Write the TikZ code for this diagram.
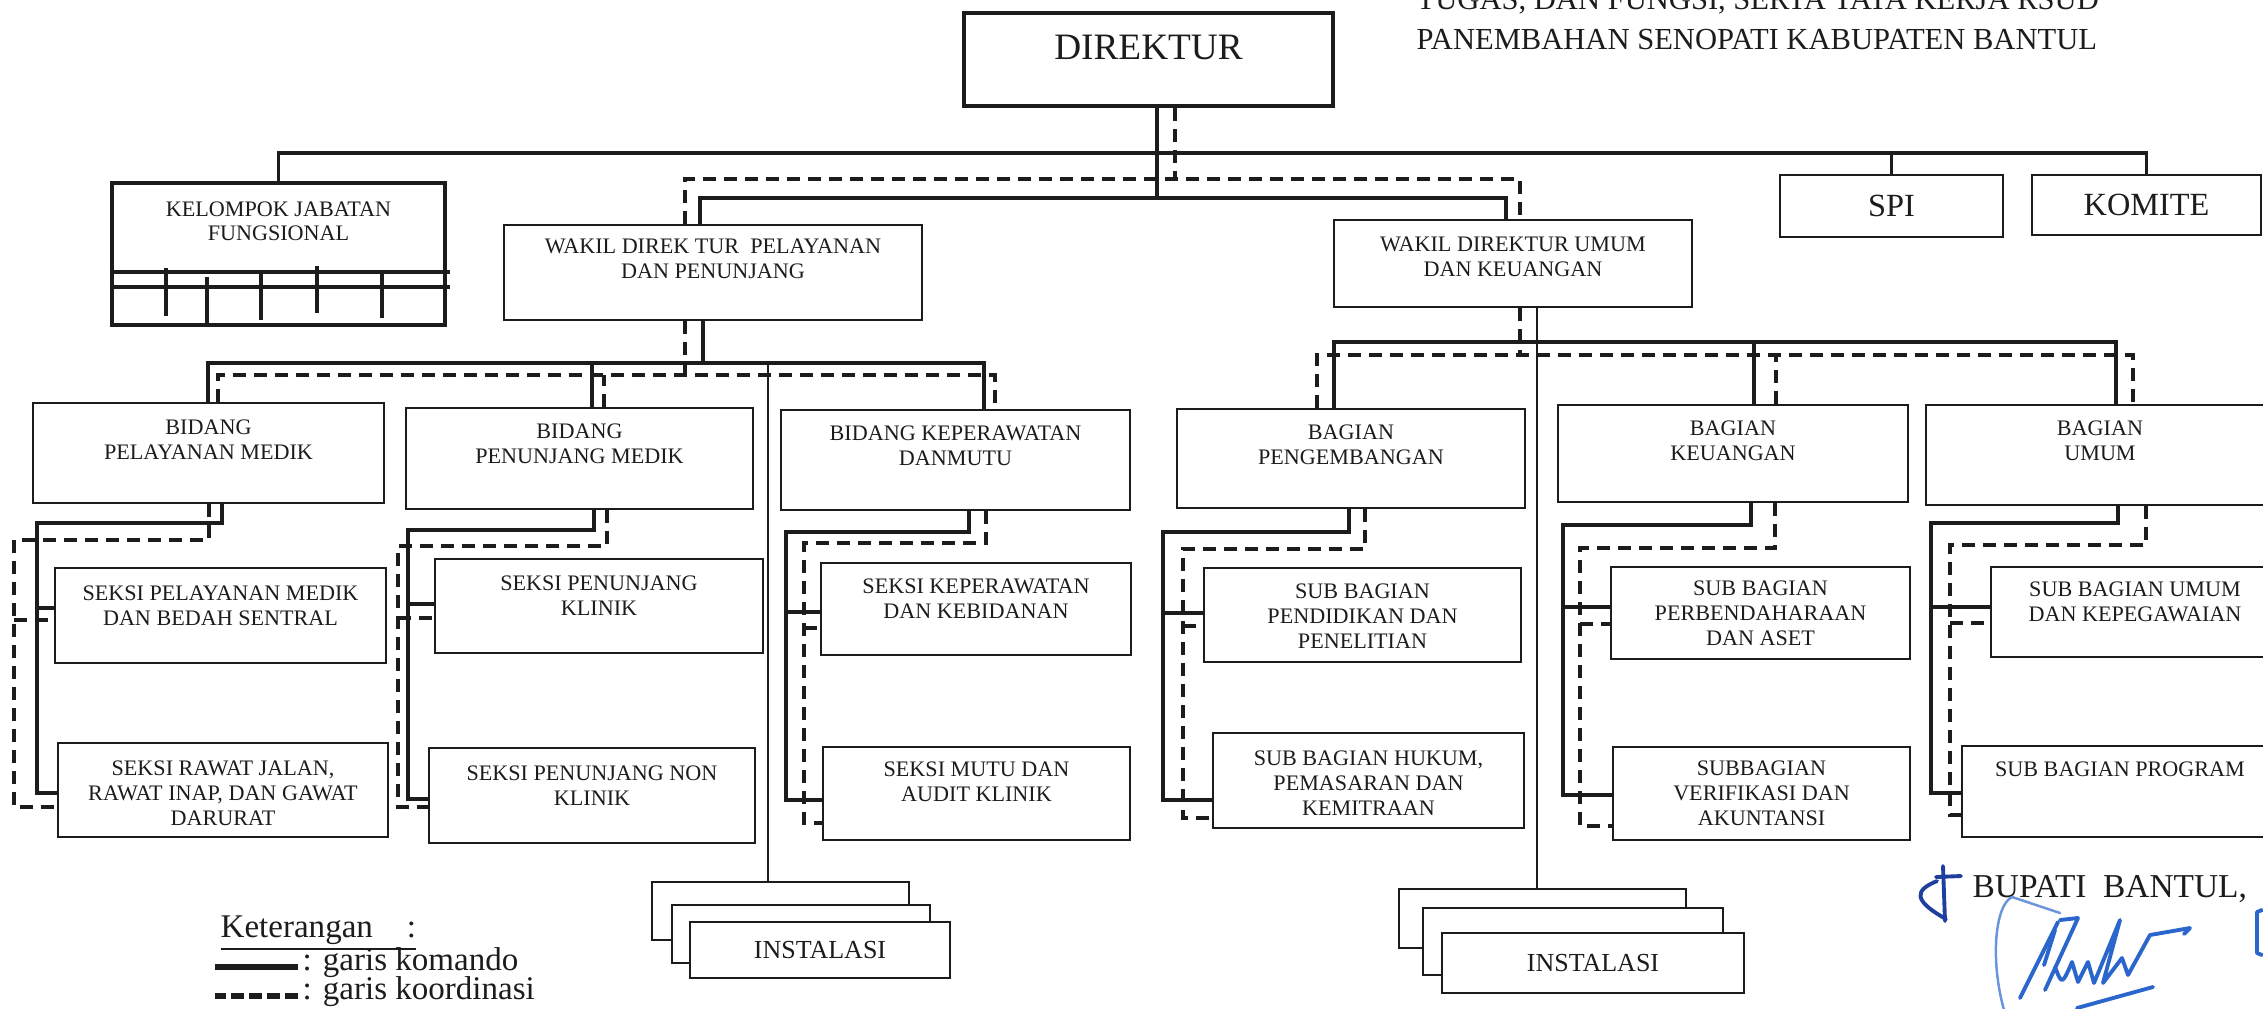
\documentclass[tikz,border=0pt]{standalone}
\usepackage{fontspec}
\setmainfont{Liberation Serif}
\usetikzlibrary{positioning}
\definecolor{ink}{HTML}{1C1C1C}
\definecolor{sigblue}{HTML}{2A66CC}
\definecolor{sigdark}{HTML}{1F3E9E}

\begin{document}
\begin{tikzpicture}[x=0.1mm,y=-0.1mm,
  unit/.style={draw=ink,line width=0.8pt,inner sep=0pt,fill=white,text=ink},
  txt/.style={align=center,inner sep=0pt,text=ink,font=\fontsize{6.3}{7}\selectfont},
  big/.style={inner sep=0pt,text=ink,font=\fontsize{9.2}{10}\selectfont},
  cmd/.style={draw=ink,line width=1.1pt},
  thinline/.style={draw=ink,line width=0.6pt},
  crd/.style={draw=ink,line width=0.9pt,dash pattern=on 1.3mm off 0.8mm},
  sig/.style={draw=sigblue,line width=1.1pt,line cap=round,line join=round}]
\useasboundingbox (0,0) rectangle (2263,1008);
\fill[white] (0,0) rectangle (2263,1008);

% heading
\node[big,anchor=base west,font=\fontsize{8.7}{10}\selectfont] (hd1) at (1416,9) {TUGAS, DAN FUNGSI, SERTA TATA KERJA RSUD};
\node[big,anchor=base west,font=\fontsize{8.7}{10}\selectfont] (hd2) at (1416,49) {PANEMBAHAN SENOPATI KABUPATEN BANTUL};

% top
\node[unit,line width=1.3pt,minimum width=36.9mm,minimum height=9.3mm] (dir) at (1148.5,59.5) {};
\node[big,font=\fontsize{10.6}{12}\selectfont,below=2.4mm of dir.north] (dirt) {DIREKTUR};
\node[unit,line width=1.3pt,minimum width=33.3mm,minimum height=14.2mm] (kjf) at (278.5,254) {};
\node[txt,below=2mm of kjf.north] (kjft) {KELOMPOK JABATAN\\FUNGSIONAL};
\node[unit,minimum width=22.3mm,minimum height=6.2mm] (spi) at (1891.5,206) {};
\node[big] (spit) at (spi) {SPI};
\node[unit,minimum width=22.9mm,minimum height=6mm] (kom) at (2146.5,205) {};
\node[big] (komt) at (kom) {KOMITE};
\node[unit,minimum width=41.8mm,minimum height=9.5mm] (wpp) at (713,272.5) {};
\node[txt,below=1.5mm of wpp.north] (wppt) {WAKIL DIREK TUR\ \ PELAYANAN\\DAN PENUNJANG};
\node[unit,minimum width=35.8mm,minimum height=8.7mm] (wpu) at (1513,263.5) {};
\node[txt,below=1.8mm of wpu.north] (wput) {WAKIL DIREKTUR UMUM\\DAN KEUANGAN};

% bidang / bagian
\node[unit,minimum width=35.1mm,minimum height=10mm] (bpm) at (208.5,453) {};
\node[txt,below=1.8mm of bpm.north] (bpmt) {BIDANG\\PELAYANAN MEDIK};
\node[unit,minimum width=34.7mm,minimum height=10.1mm] (bpn) at (579.5,458.5) {};
\node[txt,below=1.7mm of bpn.north] (bpnt) {BIDANG\\PENUNJANG MEDIK};
\node[unit,minimum width=34.9mm,minimum height=10mm] (bkm) at (955.5,460) {};
\node[txt,below=1.7mm of bkm.north] (bkmt) {BIDANG KEPERAWATAN\\DANMUTU};
\node[unit,minimum width=34.8mm,minimum height=9.9mm] (bgp) at (1351,458.5) {};
\node[txt,below=1.7mm of bgp.north] (bgpt) {BAGIAN\\PENGEMBANGAN};
\node[unit,minimum width=35mm,minimum height=9.7mm] (bgk) at (1733,453.5) {};
\node[txt,below=1.7mm of bgk.north] (bgkt) {BAGIAN\\KEUANGAN};
\node[unit,minimum width=34.8mm,minimum height=10mm] (bgu) at (2100,455) {};
\node[txt,below=1.7mm of bgu.north] (bgut) {BAGIAN\\UMUM};

% seksi / sub bagian
\node[unit,minimum width=33.1mm,minimum height=9.5mm] (spm) at (220.5,615.5) {};
\node[txt,below=1.9mm of spm.north] (spmt) {SEKSI PELAYANAN MEDIK\\DAN BEDAH SENTRAL};
\node[unit,minimum width=33mm,minimum height=9.4mm] (srj) at (223,790) {};
\node[txt,below=1.9mm of srj.north] (srjt) {SEKSI RAWAT JALAN,\\RAWAT INAP, DAN GAWAT\\DARURAT};
\node[unit,minimum width=32.8mm,minimum height=9.4mm] (spk) at (599,606) {};
\node[txt,below=1.8mm of spk.north] (spkt) {SEKSI PENUNJANG\\KLINIK};
\node[unit,minimum width=32.6mm,minimum height=9.5mm] (spn) at (592,795.5) {};
\node[txt,below=1.9mm of spn.north] (spnt) {SEKSI PENUNJANG NON\\KLINIK};
\node[unit,minimum width=31mm,minimum height=9.2mm] (skk) at (976,609) {};
\node[txt,below=1.7mm of skk.north] (skkt) {SEKSI KEPERAWATAN\\DAN KEBIDANAN};
\node[unit,minimum width=30.7mm,minimum height=9.3mm] (smk) at (976.5,793.5) {};
\node[txt,below=1.6mm of smk.north] (smkt) {SEKSI MUTU DAN\\AUDIT KLINIK};
\node[unit,minimum width=31.7mm,minimum height=9.4mm] (sbp) at (1362.5,615) {};
\node[txt,below=1.7mm of sbp.north] (sbpt) {SUB BAGIAN\\PENDIDIKAN DAN\\PENELITIAN};
\node[unit,minimum width=31.1mm,minimum height=9.5mm] (sbh) at (1368.5,780.5) {};
\node[txt,below=1.9mm of sbh.north] (sbht) {SUB BAGIAN HUKUM,\\PEMASARAN DAN\\KEMITRAAN};
\node[unit,minimum width=29.9mm,minimum height=9.2mm] (sbb) at (1760.5,613) {};
\node[txt,below=1.5mm of sbb.north] (sbbt) {SUB BAGIAN\\PERBENDAHARAAN\\DAN ASET};
\node[unit,minimum width=29.7mm,minimum height=9.3mm] (sbv) at (1761.5,793.5) {};
\node[txt,below=1.5mm of sbv.north] (sbvt) {SUBBAGIAN\\VERIFIKASI DAN\\AKUNTANSI};
\node[unit,minimum width=28.8mm,minimum height=9mm] (sbu) at (2135,612) {};
\node[txt,below=1.6mm of sbu.north] (sbut) {SUB BAGIAN UMUM\\DAN KEPEGAWAIAN};
\node[unit,minimum width=31.6mm,minimum height=9.1mm] (sbr) at (2120,791.5) {};
\node[txt,below=1.7mm of sbr.north] (sbrt) {SUB BAGIAN PROGRAM};

% instalasi
\node[unit,minimum width=25.7mm,minimum height=5.8mm] (il1) at (780.5,911) {};
\node[unit,minimum width=25.8mm,minimum height=5.8mm] (il2) at (801,934) {};
\node[unit,minimum width=26mm,minimum height=5.6mm,font=\fontsize{7.4}{8}\selectfont] (il3) at (820,950) {INSTALASI};
\node[unit,minimum width=28.7mm,minimum height=5.9mm] (ir1) at (1542.5,918.5) {};
\node[unit,minimum width=30mm,minimum height=6.7mm] (ir2) at (1573,941.5) {};
\node[unit,minimum width=30.2mm,minimum height=6mm,font=\fontsize{7.4}{8}\selectfont] (ir3) at (1593,963) {INSTALASI};

% kelompok jabatan fungsional
\draw[cmd] (kjf.west |- 0,272) -- (450,272);
\draw[cmd] (kjf.west |- 0,287) -- (450,287);
\foreach \tx/\ta/\tb in {166/268/316,207/277/323,261/272/320,317/266/313,382/274/318}
  \draw[cmd] (\tx,\ta) -- (\tx,\tb);

% garis komando / koordinasi, atas
\draw[cmd] (kjf.north) -- (kjf.north |- 0,153) -| (kom.north);
\draw[cmd] (spi.north) -- (spi.north |- 0,153);
\draw[cmd] (dir.south -| 1157,0) -- (1157,198);
\draw[cmd] (wpp.north -| 700,0) |- (1157,198) -| (wpu.north -| 1506,0);
\draw[crd] (dir.south -| 1175,0) -- (1175,179);
\draw[crd] (wpp.north -| 685,0) |- (1175,179) -| (wpu.north -| 1520,0);

% wakil pelayanan
\draw[cmd] (wpp.south -| 703,0) -- (703,363);
\draw[cmd] (bpm.north -| 208,0) |- (703,363) -| (bkm.north -| 984,0);
\draw[cmd] (bpn.north -| 592,0) -- (592,363);
\draw[thinline] (768,363) -- (il1.north -| 768,0);
\draw[crd] (wpp.south -| 685,0) -- (685,375);
\draw[crd] (bpm.north -| 218,0) |- (685,375) -| (bkm.north -| 995,0);
\draw[crd] (bpn.north -| 604,0) -- (604,375);

% wakil umum
\draw[thinline] (wpu.south -| 1537,0) -- (ir1.north -| 1537,0);
\draw[cmd] (bgp.north -| 1334,0) |- (1537,342) -| (bgu.north -| 2116,0);
\draw[cmd] (bgk.north -| 1754,0) -- (1754,342);
\draw[crd] (wpu.south -| 1520,0) -- (1520,355);
\draw[crd] (bgp.north -| 1317,0) |- (1520,355) -| (bgu.north -| 2133,0);
\draw[crd] (bgk.north -| 1776,0) -- (1776,355);

% seksi / sub bagian
\foreach \up/\ca/\cb/\xs/\ys/\xl/\ya/\yb/\xd/\yd/\xe/\yc/\ye in {
  bpm/spm/srj/222/523/37/608/793/209/540/14/620/807,
  bpn/spk/spn/594/530/408/604/799/607/546/398/618/807,
  bkm/skk/smk/969/532/786/612/800/986/543/804/628/823,
  bgp/sbp/sbh/1349/532/1163/613/800/1365/549/1183/626/818,
  bgk/sbb/sbv/1751/525/1563/607/795/1775/548/1580/624/826,
  bgu/sbu/sbr/2118/523/1931/607/793/2146/545/1950/623/815}{
  \draw[cmd] (\up.south -| \xs,0) |- (\xl,\ys) |- (\cb.west |- 0,\yb);
  \draw[cmd] (\xl,\ya) -- (\ca.west |- 0,\ya);
  \draw[crd] (\up.south -| \xd,0) |- (\xe,\yd) |- (\cb.west |- 0,\ye);
  \draw[crd] (\xe,\yc) -- (\ca.west |- 0,\yc);
}

% keterangan
\node[big,anchor=base west,font=\fontsize{9.4}{10}\selectfont] (ket) at (220,937) {\underline{Keterangan\hspace{3.4mm}:}};
\node[big,anchor=base west,font=\fontsize{9.4}{10}\selectfont] (lg1) at (302,970) {: garis komando};
\node[big,anchor=base west,font=\fontsize{9.4}{10}\selectfont] (lg2) at (302,999) {: garis koordinasi};
\draw[ink,line width=1.7pt] ([xshift=-0.4mm,yshift=0.3mm]lg1.base west) -- ++(-83,0);
\draw[ink,line width=1.7pt,dash pattern=on 1.3mm off 0.5mm] ([xshift=-0.4mm,yshift=0.3mm]lg2.base west) -- ++(-83,0);

% tanda tangan
\node[big,anchor=base west,font=\fontsize{9.5}{10}\selectfont] (bup) at (1972,897) {BUPATI\ \ BANTUL,};
\draw[sig,draw=sigdark] (1943,866) -- (1945,921);
\draw[sig,draw=sigdark] (1936,877) -- (1961,876);
\draw[sig,draw=sigdark] (1937,881) .. controls (1915,890) and (1912,900) .. (1946,919);
\draw[sig,line width=0.7pt,draw=sigblue!70] (2060,913) -- (2012,897) .. controls (1995,905) and (1990,960) .. (2004,1010);
\draw[sig] (2060,920) -- (2078,918) -- (2045,990);
\draw[sig] (2058,922) -- (2020,998);
\draw[sig] (2055,930) -- (2044,965);
\draw[sig] (2055,967) .. controls (2062,985) .. (2072,962) -- (2078,982) -- (2088,962) -- (2094,983) -- (2120,920) -- (2103,983) .. controls (2112,970) .. (2122,958) -- (2128,975) -- (2150,935) -- (2190,928) -- (2184,934);
\draw[sig] (2077,1008) -- (2153,987);
\draw[sig] (2262,910) -- (2257,912) -- (2257,953) -- (2262,955);
\end{tikzpicture}
\end{document}
